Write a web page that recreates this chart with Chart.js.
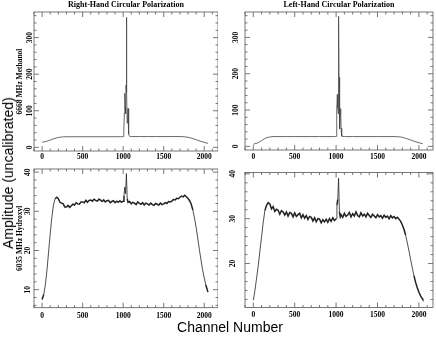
<!DOCTYPE html>
<html>
<head>
<meta charset="utf-8">
<script src="https://cdn.jsdelivr.net/npm/chart.js@4.4.0/dist/chart.umd.min.js"></script>
<style>
  body { margin: 0; background: #fff; }
  #wrap { position: relative; width: 436px; height: 338px; overflow: hidden; }
  canvas { position: absolute; }
  .lbl { position: absolute; font-family: "Liberation Sans", Arial, sans-serif; font-size: 14px; color: #000; white-space: nowrap; transform: translate(-50%, -50%); }
</style>
</head>
<body>
<div id="wrap">
  <canvas id="tl" width="218" height="165" style="left:0;top:0"></canvas>
  <canvas id="tr" width="218" height="165" style="left:218px;top:0"></canvas>
  <canvas id="bl" width="218" height="160" style="left:0;top:160px"></canvas>
  <canvas id="br" width="218" height="160" style="left:218px;top:160px"></canvas>
  <div class="lbl" style="left:8px;top:173px;transform:translate(-50%,-50%) rotate(-90deg)">Amplitude (uncalibrated)</div>
  <div class="lbl" style="left:230px;top:327px">Channel Number</div>
</div>
<script>
// tick labels
const channelTicks = [0, 500, 1000, 1500, 2000];
const methTicks = [0, 100, 200, 300];
const ohTicksRHC = [10, 20, 30, 40];
const ohTicksLHC = [20, 30, 40];

// 6668 MHz methanol spectra
const methChannels = [0, 50, 100, 150, 200, 250, 300, 400, 500, 600, 700, 800, 900, 980, 1000,
  1005, 1010, 1015, 1020, 1025, 1030, 1035, 1040, 1045, 1050, 1055, 1060, 1065, 1070,
  1080, 1100, 1200, 1300, 1400, 1500, 1600, 1700, 1750, 1800, 1850, 1900, 1950, 2000, 2047];
const methRHC = [14, 16, 20, 24, 27, 28.5, 29, 29, 29, 29, 29, 29, 29, 29, 29.5,
  31, 40, 95, 148, 110, 92, 170, 355, 150, 66, 82, 106, 58, 36,
  30, 29.5, 29.5, 29.5, 29.5, 29.5, 29.5, 29.5, 29, 27.5, 24.5, 21, 17, 13.5, 11];
const methLHC = [6, 9, 16, 23, 26, 27, 27, 27, 27, 27, 27, 27, 27, 27, 27.5,
  35, 100, 143, 105, 90, 358, 190, 75, 48, 88, 104, 50, 32, 28,
  27.5, 27, 27, 27, 27, 27, 27, 27, 26.5, 25, 21.5, 17.5, 13.5, 10, 7.5];

// 6035 MHz hydroxyl spectra
const ohChannels = [
  0, 20, 40, 60, 80, 100, 120, 140, 160, 180,
  200, 220, 240, 260, 280, 300, 320, 340, 360, 380,
  400, 420, 440, 460, 480, 500, 520, 540, 560, 580,
  600, 620, 640, 660, 680, 700, 720, 740, 760, 780,
  800, 820, 840, 860, 880, 900, 920, 940, 960, 980,
  1000, 1010, 1020, 1030, 1040, 1050, 1060, 1080, 1100, 1120,
  1140, 1160, 1180, 1200, 1220, 1240, 1260, 1280, 1300, 1320,
  1340, 1360, 1380, 1400, 1420, 1440, 1460, 1480, 1500, 1520,
  1540, 1560, 1580, 1600, 1620, 1640, 1660, 1680, 1700, 1720,
  1740, 1760, 1780, 1800, 1820, 1840, 1860, 1880, 1900, 1920,
  1940, 1960, 1980, 2000, 2020, 2040, 2047];
const ohRHC = [
  7.5, 8.8, 11.2, 15.0, 19.6, 24.3, 28.4, 31.6, 33.2, 33.6,
  33.2, 32.3, 32.1, 31.9, 31.1, 31.1, 31.5, 31.0, 31.4, 31.8,
  31.6, 32.2, 31.9, 31.8, 32.4, 32.4, 32.2, 32.8, 32.3, 32.8,
  32.9, 32.6, 33.1, 32.8, 32.6, 33.1, 32.9, 32.5, 32.9, 32.4,
  32.7, 32.8, 32.2, 32.5, 32.7, 32.2, 32.6, 32.3, 32.7, 32.3,
  32.6, 34.0, 36.2, 34.5, 39.6, 33.2, 32.3, 32.5, 31.9, 32.3,
  32.1, 31.7, 32.4, 32.0, 31.8, 32.2, 31.6, 32.1, 31.9, 31.6,
  32.1, 31.7, 31.5, 32.0, 31.8, 31.6, 32.1, 31.7, 31.9, 32.2,
  32.0, 32.5, 32.4, 32.6, 33.0, 32.9, 33.3, 33.2, 33.6, 33.9,
  33.7, 34.1, 33.7, 33.3, 32.7, 31.8, 30.3, 28.3, 25.9, 23.1,
  20.3, 17.6, 15.1, 13.0, 11.2, 9.8, 9.4];
const ohLHC = [
  11.8, 14.0, 16.8, 19.5, 22.8, 26.0, 29.2, 31.8, 33.0, 33.6,
  33.3, 32.2, 32.7, 31.6, 32.1, 31.9, 31.0, 31.8, 31.5, 30.8,
  31.5, 30.6, 31.4, 31.2, 30.4, 31.3, 30.5, 30.9, 31.2, 30.2,
  30.9, 30.1, 30.7, 29.8, 30.5, 30.3, 29.5, 30.2, 29.3, 30.0,
  29.9, 29.1, 29.8, 29.3, 29.9, 29.2, 30.0, 29.4, 30.2, 29.6,
  30.0, 33.0, 34.3, 39.0, 31.5, 30.4, 30.9, 30.3, 31.2, 30.5,
  30.8, 31.4, 30.4, 31.1, 30.6, 31.5, 30.7, 30.4, 31.3, 30.6,
  31.0, 30.4, 31.2, 30.7, 30.3, 31.0, 30.6, 30.2, 30.9, 30.4,
  30.7, 30.1, 30.8, 30.3, 30.6, 30.0, 30.7, 30.2, 30.5, 30.0,
  30.3, 29.9, 29.4, 28.6, 27.6, 26.3, 24.6, 22.8, 20.9, 19.0,
  17.3, 15.8, 14.6, 13.6, 12.8, 12.2, 12.0];

const serif = '"Liberation Serif", "Times New Roman", serif';

// box round the plot with small inward ticks on every side
const frame = {
  id: 'frame',
  afterDatasetsDraw(chart, args, o) {
    const { ctx, chartArea: a, scales: { x, y } } = chart;
    ctx.save();
    ctx.strokeStyle = '#555';
    ctx.lineWidth = 0.8;
    ctx.strokeRect(a.left, a.top, a.width, a.height);
    ctx.beginPath();
    for (let k = Math.ceil(x.min / o.xMinor); k * o.xMinor <= x.max; k++) {
      const v = k * o.xMinor;
      const px = x.getPixelForValue(v);
      const len = Math.abs(v % o.xMajor) < 1e-6 ? 5 : 2.5;
      ctx.moveTo(px, a.bottom); ctx.lineTo(px, a.bottom - len);
      ctx.moveTo(px, a.top); ctx.lineTo(px, a.top + len);
    }
    for (let k = Math.ceil(y.min / o.yMinor); k * o.yMinor <= y.max; k++) {
      const v = k * o.yMinor;
      const py = y.getPixelForValue(v);
      const len = Math.abs(v % o.yMajor) < 1e-6 ? 5 : 2.5;
      ctx.moveTo(a.left, py); ctx.lineTo(a.left + len, py);
      ctx.moveTo(a.right, py); ctx.lineTo(a.right - len, py);
    }
    ctx.stroke();
    ctx.restore();
  }
};

function panel(id, channels, values, o) {
  const ctx = document.getElementById(id).getContext('2d');
  return new Chart(ctx, {
    type: 'line',
    data: {
      datasets: [{
        data: channels.map((c, i) => ({ x: c, y: values[i] })),
        borderColor: o.color,
        borderWidth: o.lw,
        pointRadius: 0,
        tension: 0,
        // noisy flat parts drawn as a heavier band, steep edges thin
        segment: {
          borderWidth: c => Math.abs(c.p1.parsed.y - c.p0.parsed.y) > o.steep ? 0.8 : o.lw
        }
      }]
    },
    options: {
      responsive: false,
      animation: false,
      events: [],
      layout: { padding: o.pad },
      plugins: {
        legend: { display: false },
        tooltip: { enabled: false },
        title: {
          display: !!o.title,
          text: o.title || '',
          fullSize: false,
          color: '#000',
          font: { family: serif, size: 8, weight: 'bold', lineHeight: 1.2 },
          padding: { top: 0.5, bottom: 1.9 }
        },
        frame: { xMinor: 100, xMajor: 500, yMinor: o.yMinor, yMajor: o.yMajor }
      },
      scales: {
        x: {
          type: 'linear',
          min: -100,
          max: 2170,
          afterFit: s => { s.height = o.xh; },
          afterBuildTicks: s => { s.ticks = channelTicks.map(v => ({ value: v })); },
          grid: { display: false, drawTicks: false },
          border: { display: false },
          ticks: {
            padding: o.xpad,
            color: '#000',
            callback: v => String(v),
            font: { family: serif, size: 7.5, weight: 'bold' }
          }
        },
        y: {
          min: o.ymin,
          max: o.ymax,
          afterFit: s => { s.width = o.yw; },
          afterBuildTicks: s => { s.ticks = o.yticks.map(v => ({ value: v })); },
          grid: { display: false, drawTicks: false },
          border: { display: false },
          ticks: {
            minRotation: 90,
            maxRotation: 90,
            crossAlign: 'center',
            padding: o.ypad,
            color: '#000',
            callback: v => String(v),
            font: { family: serif, size: 7.5, weight: 'bold' }
          },
          title: {
            display: !!o.ytitle,
            text: o.ytitle || '',
            color: '#000',
            font: { family: serif, size: 7.5, weight: 'bold', lineHeight: 1.2 },
            padding: { top: 16, bottom: 0 }
          }
        }
      }
    },
    plugins: [frame]
  });
}

panel('tl', methChannels, methRHC, {
  color: '#444', lw: 0.8, steep: 1000, title: 'Right-Hand Circular Polarization', ytitle: '6668 MHz Methanol',
  pad: { left: 0, right: 0, top: 0, bottom: 0 }, xh: 14, yw: 34, xpad: 1.5, ypad: -2,
  ymin: -10, ymax: 370, yticks: methTicks, yMinor: 20, yMajor: 100
});
panel('tr', methChannels, methLHC, {
  color: '#444', lw: 0.8, steep: 1000, title: 'Left-Hand Circular Polarization',
  pad: { left: 0, right: 3, top: 0, bottom: 0 }, xh: 15, yw: 27, xpad: 2.5, ypad: 3,
  ymin: -10, ymax: 370, yticks: methTicks, yMinor: 20, yMajor: 100
});
panel('bl', ohChannels, ohRHC, {
  color: '#222', lw: 1.5, steep: 1.6, ytitle: '6035 MHz Hydroxyl',
  pad: { left: 0, right: 0, top: 9, bottom: 0 }, xh: 12.3, yw: 34, xpad: 3.5, ypad: 2.5,
  ymin: 5.4, ymax: 40.8, yticks: ohTicksRHC, yMinor: 2, yMajor: 10
});
panel('br', ohChannels, ohLHC, {
  color: '#222', lw: 1.5, steep: 1.6,
  pad: { left: 0, right: 3, top: 9, bottom: 0 }, xh: 12.3, yw: 27, xpad: 3.5, ypad: 8,
  ymin: 10.2, ymax: 40.3, yticks: ohTicksLHC, yMinor: 2, yMajor: 10
});
</script>
</body>
</html>
